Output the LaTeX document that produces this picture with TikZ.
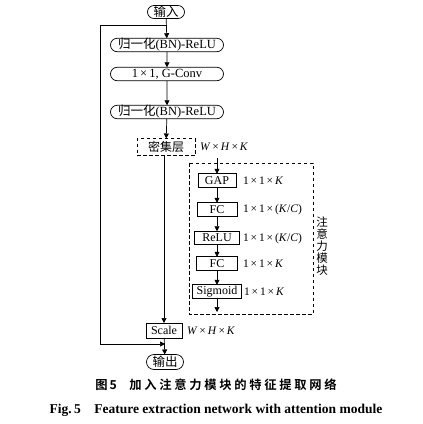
\documentclass[tikz,border=0pt]{standalone}
\usepackage{fontspec}
\setmainfont{Liberation Serif}
\newfontfamily\cjk{Noto Sans CJK SC}
\newfontfamily\cjkb[LetterSpace=22]{Noto Sans CJK SC Bold}
\usetikzlibrary{arrows.meta,shapes.misc}
\newcommand{\tms}{\,×\,}
\begin{document}
\begin{tikzpicture}[x=1pt,y=-1pt,
  every node/.style={inner sep=0pt,outer sep=0pt,font=\fontsize{11.5}{12}\selectfont},
  conn/.style={line width=0.7pt},
  arr/.style={conn,-{Triangle[length=5pt,width=5pt]}},
  rbox/.style={draw,line width=0.7pt,rounded rectangle,minimum height=13.5pt,font=\fontsize{12.5}{13}\selectfont},
  sbox/.style={draw,line width=0.8pt,rectangle,minimum height=13.5pt,font=\fontsize{12}{13}\selectfont},
  lbl/.style={anchor=west,font=\fontsize{11.5}{12}\selectfont},
  ddash/.style={draw,line width=0.7pt,dash pattern=on 3.5pt off 2.5pt}]
\useasboundingbox (0,0) rectangle (423,424);
% main column
\node[rbox,minimum width=37pt,minimum height=13pt] (in) at (166,12) {\cjk 输入};
\node[rbox,minimum width=113pt] (bn1) at (167,45) {{\cjk 归一化}(BN)-ReLU};
\node[rbox,minimum width=113pt] (conv) at (167,74) {1\tms 1, G-Conv};
\node[rbox,minimum width=113pt] (bn2) at (167,112) {{\cjk 归一化}(BN)-ReLU};
\node[ddash,minimum width=58pt,minimum height=17pt,font=\fontsize{12}{13}\selectfont] (dense) at (166,147) {\cjk 密集层};
\node[lbl] (dl) at (200,147) {\textit{W}\tms\textit{H}\tms\textit{K}};
% attention module
\node[sbox,minimum width=38pt] (gap) at (217,180.5) {GAP};
\node[lbl] (gl) at (243,181) {1\tms 1\tms\textit{K}};
\node[sbox,minimum width=40pt] (fc1) at (217,209.5) {FC};
\node[lbl] (fl) at (243,210) {1\tms 1\tms(\textit{K}/\textit{C})};
\node[sbox,minimum width=45pt] (relu) at (217,238) {ReLU};
\node[lbl] (rl) at (243,238.5) {1\tms 1\tms(\textit{K}/\textit{C})};
\node[sbox,minimum width=41pt] (fc2) at (217,263.5) {FC};
\node[lbl] (f2l) at (243,264) {1\tms 1\tms\textit{K}};
\node[sbox,minimum width=49pt] (sig) at (217,291.5) {Sigmoid};
\node[lbl] (sl) at (244,292) {1\tms 1\tms\textit{K}};
\draw[ddash] (189,163) rectangle (313,314);
\node[align=center,font=\cjk\fontsize{11.5}{12}\selectfont] (att) at (322,246) {注\\意\\力\\模\\块};
\coordinate (ain) at (217,158);
\coordinate (aout) at (217,312);
% scale and output
\node[sbox,minimum width=36pt,minimum height=15pt] (scale) at (164,330.5) {Scale};
\node[lbl] (scl) at (187,331) {\textit{W}\tms\textit{H}\tms\textit{K}};
\node[rbox,minimum width=37pt,minimum height=15pt] (out) at (165,362) {\cjk 输出};
% connectors
\draw[arr] (in) -- (bn1);
\draw[arr] (bn1) -- (conv);
\draw[arr] (conv) -- (bn2);
\draw[arr] (bn2) -- (dense);
\draw[arr] (dense.south -| scale.north) -- (scale.north);
\draw[arr] (ain) -- (gap);
\draw[arr] (gap) -- (fc1);
\draw[arr] (fc1) -- (relu);
\draw[arr] (relu) -- (fc2);
\draw[arr] (fc2) -- (sig);
\draw[arr] (sig) -- (aout);
\coordinate (sk1) at (167,25);
\coordinate (sk2) at (100,25);
\coordinate (sk3) at (100,344);
\coordinate (sk4) at (165,344);
\draw[conn] (sk1) -- (sk2) -- (sk3);
\draw[arr] (sk3) -- (sk4);
\draw[arr] (scale) -- (out);
% caption
\node (cap1) at (216,385) {\cjkb\fontsize{12.3}{13}\selectfont 图\,5\quad 加入注意力模块的特征提取网络};
\node (cap2) at (216,410) {\bfseries\fontsize{13.5}{14}\selectfont Fig.\,5\quad Feature extraction network with attention module};
\end{tikzpicture}
\end{document}
